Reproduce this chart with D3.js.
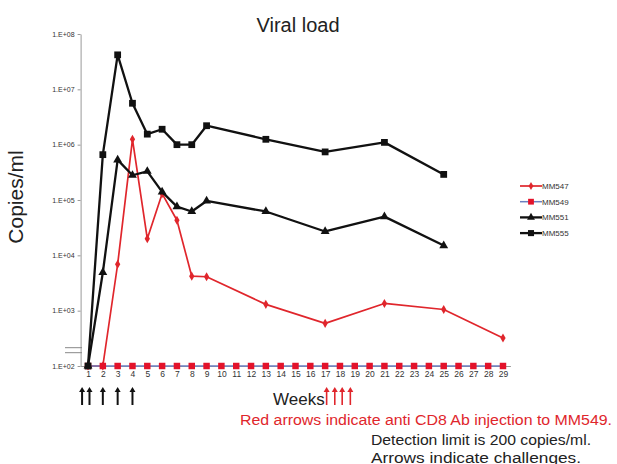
<!DOCTYPE html>
<html>
<head>
  <meta charset="UTF-8">
  <style>
    body { margin: 0; background: #fff; }
    svg { display: block; font-family: "Liberation Sans", Arial, sans-serif; }
  </style>
</head>
<body>
<svg width="617" height="464"></svg>
<script src="https://d3js.org/d3.v7.min.js"></script>
<script>
// weeks sampled for the three detectable animals
const weeks = [1, 2, 3, 4, 5, 6, 7, 8, 9, 13, 17, 21, 25];
const mm555 = [100, 6.6e5, 4.2e7, 5.6e6, 1.55e6, 1.9e6, 1.0e6, 1.0e6, 2.2e6, 1.25e6, 7.4e5, 1.1e6, 2.9e5];
const mm551 = [100, 4.9e3, 5.3e5, 2.8e5, 3.3e5, 1.4e5, 7.6e4, 6.2e4, 9.6e4, 6.2e4, 2.7e4, 5.0e4, 1.5e4];
const weeks547 = [1, 2, 3, 4, 5, 6, 7, 8, 9, 13, 17, 21, 25, 29];
const mm547 = [100, 100, 6.9e3, 1.25e6, 2.0e4, 1.3e5, 4.3e4, 4.2e3, 4.1e3, 1.3e3, 5.9e2, 1.35e3, 1.05e3, 3.2e2];
const weeks549 = d3.range(1, 30);
const mm549 = weeks549.map(() => 100); // below detection limit throughout

const yTicks = [1e2, 1e3, 1e4, 1e5, 1e6, 1e7, 1e8];
const challengeWeeks = [0.6, 1.1, 2, 3, 4];
const antiCD8Weeks = [17.1, 17.65, 18.15, 18.7];

const series = [
  { name: "MM547", x: weeks547, y: mm547, line: "#e0262c", fill: "#e0262c", symbol: d3.symbolDiamond, size: 24, width: 1.7 },
  { name: "MM549", x: weeks549, y: mm549, line: "#6b7fc0", fill: "#e3122a", symbol: d3.symbolSquare, size: 42, width: 1.5 },
  { name: "MM551", x: weeks, y: mm551, line: "#111", fill: "#111", symbol: d3.symbolTriangle, size: 34, width: 2.3 },
  { name: "MM555", x: weeks, y: mm555, line: "#111", fill: "#111", symbol: d3.symbolSquare, size: 46, width: 2.3 }
];

const svg = d3.select("svg");

const x = d3.scaleLinear().domain([0.5, 29.5]).range([80.6, 510.4]);
const y = d3.scaleLog().domain([1e2, 1e8]).range([366, 34]);

// title
svg.append("text")
    .attr("x", 298).attr("y", 32)
    .attr("text-anchor", "middle")
    .attr("font-size", 20)
    .attr("fill", "#222")
    .text("Viral load");

// y axis
const yAxis = svg.append("g")
    .attr("transform", "translate(80.6,0)")
    .call(d3.axisLeft(y).tickValues(yTicks).tickSize(3).tickSizeOuter(0)
      .tickFormat(d => "1.E+" + String(Math.round(Math.log10(d))).padStart(2, "0")));
yAxis.select(".domain").attr("stroke", "#999");
yAxis.selectAll(".tick line").attr("stroke", "#999");
yAxis.selectAll(".tick text").attr("font-size", 7).attr("fill", "#333").attr("x", -6);

// x axis
const xAxis = svg.append("g")
    .attr("transform", "translate(0,366)")
    .call(d3.axisBottom(x).tickValues(d3.range(1, 30)).tickSize(3).tickSizeOuter(0));
xAxis.select(".domain").attr("stroke", "#999");
xAxis.selectAll(".tick line").attr("stroke", "#999");
xAxis.selectAll(".tick text").attr("font-size", 8.5).attr("fill", "#333").attr("dy", "0.55em");

// axis break marks
svg.append("g").selectAll("line")
  .data([347.7, 352.7])
  .enter().append("line")
    .attr("x1", 65).attr("x2", 82)
    .attr("y1", d => d).attr("y2", d => d)
    .attr("stroke", "#888").attr("stroke-width", 1);

// y label
svg.append("text")
    .attr("transform", "translate(23,197) rotate(-90)")
    .attr("text-anchor", "middle")
    .attr("font-size", 21)
    .attr("fill", "#222")
    .text("Copies/ml");

// series
const line = d3.line().x(d => x(d[0])).y(d => y(d[1]));
series.forEach(s => {
  const pts = s.x.map((w, i) => [w, s.y[i]]);
  const g = svg.append("g").attr("class", s.name);
  g.append("path")
      .attr("d", line(pts))
      .attr("fill", "none")
      .attr("stroke", s.line)
      .attr("stroke-width", s.width)
      .attr("stroke-linejoin", "round");
  g.selectAll("path.pt")
    .data(pts)
    .enter().append("path")
      .attr("class", "pt")
      .attr("transform", d => `translate(${x(d[0])},${y(d[1])})`)
      .attr("d", d3.symbol().type(s.symbol).size(s.size))
      .attr("fill", s.fill);
});

// legend
const legend = svg.append("g").attr("transform", "translate(520,186)");
series.forEach((s, i) => {
  const row = legend.append("g").attr("transform", `translate(0,${i * 15.7})`);
  row.append("line").attr("x1", 0).attr("x2", 22)
      .attr("stroke", s.line).attr("stroke-width", s.width);
  row.append("path")
      .attr("transform", "translate(11,0)")
      .attr("d", d3.symbol().type(s.symbol).size(s.size * 0.8))
      .attr("fill", s.fill);
  row.append("text")
      .attr("x", 22).attr("y", 3)
      .attr("font-size", 8)
      .attr("fill", "#333")
      .text(s.name);
});

// challenge / injection arrows
function arrows(data, color, w) {
  const g = svg.append("g");
  data.forEach(wk => {
    const cx = x(wk);
    g.append("line").attr("x1", cx).attr("x2", cx)
        .attr("y1", 391).attr("y2", 405)
        .attr("stroke", color).attr("stroke-width", w);
    g.append("path")
        .attr("d", `M${cx - 3},${392}L${cx},${387}L${cx + 3},${392}Z`)
        .attr("fill", color);
  });
}
arrows(challengeWeeks, "#111", 2);
arrows(antiCD8Weeks, "#e0262c", 1.6);

// x label and notes
svg.append("text")
    .attr("x", 273).attr("y", 405)
    .attr("font-size", 17).attr("fill", "#222")
    .text("Weeks");
svg.append("text")
    .attr("x", 240).attr("y", 425)
    .attr("font-size", 14).attr("fill", "#e0262c")
    .attr("textLength", 372).attr("lengthAdjust", "spacingAndGlyphs")
    .text("Red arrows indicate anti CD8 Ab injection to MM549.");
svg.append("text")
    .attr("x", 371).attr("y", 445)
    .attr("font-size", 14).attr("fill", "#222")
    .attr("textLength", 220).attr("lengthAdjust", "spacingAndGlyphs")
    .text("Detection limit is 200 copies/ml.");
svg.append("text")
    .attr("x", 371).attr("y", 463)
    .attr("font-size", 14).attr("fill", "#222")
    .attr("textLength", 210).attr("lengthAdjust", "spacingAndGlyphs")
    .text("Arrows indicate challenges.");
</script>
</body>
</html>
